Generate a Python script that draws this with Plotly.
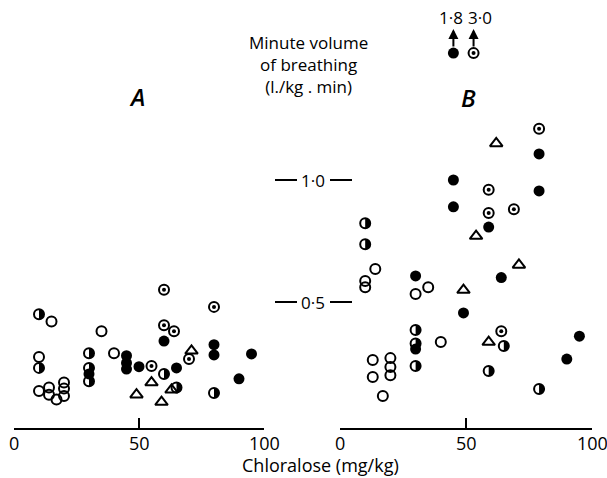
import plotly.graph_objects as go

# ---------------- data (chloralose dose mg/kg, minute volume l./kg.min) ----------------
# Panel A
a_open_x = [15, 35, 40, 10, 10, 14, 14, 17, 20, 20, 20]
a_open_y = [0.42, 0.38, 0.29, 0.275, 0.135, 0.15, 0.12, 0.10, 0.17, 0.145, 0.115]
a_half_x = [10, 10, 30, 30, 30, 60, 65, 80]
a_half_y = [0.45, 0.23, 0.29, 0.23, 0.175, 0.205, 0.15, 0.127]
a_fill_x = [45, 45, 45, 50, 60, 65, 80, 80, 95, 90, 30]
a_fill_y = [0.28, 0.25, 0.225, 0.235, 0.34, 0.23, 0.325, 0.283, 0.287, 0.185, 0.205]
a_dot_x = [60, 80, 60, 64, 55, 70]
a_dot_y = [0.55, 0.48, 0.405, 0.38, 0.238, 0.266]
a_tri_x = [71, 55, 49, 59, 63]
a_tri_y = [0.30, 0.17, 0.12, 0.09, 0.14]

# Panel B
b_open_x = [14, 10, 10, 35, 30, 40, 13, 13, 20, 20, 20, 17]
b_open_y = [0.635, 0.586, 0.56, 0.56, 0.533, 0.336, 0.262, 0.193, 0.27, 0.234, 0.20, 0.115]
b_half_x = [10, 10, 30, 30, 30, 65, 59, 79]
b_half_y = [0.823, 0.737, 0.385, 0.33, 0.238, 0.32, 0.217, 0.143]
b_fill_x = [30, 30, 45, 45, 59, 64, 79, 79, 49, 95, 90]
b_fill_y = [0.607, 0.307, 1.0, 0.89, 0.807, 0.60, 1.107, 0.955, 0.455, 0.36, 0.266]
b_dot_x = [79, 59, 59, 69, 64]
b_dot_y = [1.21, 0.96, 0.865, 0.88, 0.38]
b_tri_x = [62, 54, 71, 49, 59]
b_tri_y = [1.15, 0.77, 0.652, 0.549, 0.336]

# off-scale values in panel B (shown at top with arrows)
off_fill_x = [45]
off_dot_x = [53]
off_labels = ["1·8", "3·0"]
off_label_x = [44, 55.5]
off_display_y = 1.52

x_ticks = [0, 50, 100]
y_label_vals = [1.0, 0.5]
y_label_text = ["1·0", "0·5"]

# ---------------- figure ----------------
W, H = 607, 478
FONT = "Open Sans"
fig = go.Figure()

OPEN = dict(symbol="circle-open", size=10, color="black", line=dict(width=2, color="black"))
FILL = dict(symbol="circle", size=11, color="black", line=dict(width=0))
DOT = dict(symbol="circle", size=4, color="black", line=dict(width=0))
TRI = dict(symbol="triangle-up-open", size=11, color="black", line=dict(width=2, color="black"))

shapes = []
R = 5.0
K = 0.5523 * R
HALF_PATH = (f"M0,{-R} C{K},{-R} {R},{-K} {R},0 C{R},{K} {K},{R} 0,{R} Z")


def add_panel(xa, ya, ox, oy, hx, hy, fx, fy, dx, dy, tx, ty):
    common = dict(xaxis=xa, yaxis=ya, showlegend=False, hoverinfo="skip", mode="markers")
    fig.add_trace(go.Scatter(x=ox, y=oy, marker=OPEN, **common))
    fig.add_trace(go.Scatter(x=tx, y=ty, marker=TRI, **common))
    fig.add_trace(go.Scatter(x=fx, y=fy, marker=FILL, **common))
    fig.add_trace(go.Scatter(x=dx, y=dy, marker=OPEN, **common))
    fig.add_trace(go.Scatter(x=dx, y=dy, marker=DOT, **common))
    # half-filled circles: outline marker + right-half fill shape anchored at the data point
    fig.add_trace(go.Scatter(x=hx, y=hy, marker=OPEN, **common))
    for xv, yv in zip(hx, hy):
        shapes.append(dict(type="path", xref=xa, yref=ya, xsizemode="pixel",
                           ysizemode="pixel", xanchor=xv, yanchor=yv, path=HALF_PATH,
                           fillcolor="black", line=dict(width=0), layer="above"))


add_panel("x", "y", a_open_x, a_open_y, a_half_x, a_half_y, a_fill_x, a_fill_y,
          a_dot_x, a_dot_y, a_tri_x, a_tri_y)
add_panel("x2", "y2", b_open_x, b_open_y, b_half_x, b_half_y, b_fill_x, b_fill_y,
          b_dot_x, b_dot_y, b_tri_x, b_tri_y)

# off-scale markers
offc = dict(xaxis="x2", yaxis="y2", showlegend=False, hoverinfo="skip", cliponaxis=False,
            mode="markers")
fig.add_trace(go.Scatter(x=off_fill_x, y=[off_display_y] * len(off_fill_x), marker=FILL, **offc))
fig.add_trace(go.Scatter(x=off_dot_x, y=[off_display_y] * len(off_dot_x), marker=OPEN, **offc))
fig.add_trace(go.Scatter(x=off_dot_x, y=[off_display_y] * len(off_dot_x), marker=DOT, **offc))

# geometry: plot area from top (0px) to axis line (428px)
PLOT_BOTTOM = 428
y_per_px = 1 / 244.0
y0_px = 424
yrange = [(y0_px - PLOT_BOTTOM) * y_per_px, y0_px * y_per_px]

xaxis_common = dict(range=[0, 100], showgrid=False, zeroline=False, showline=True,
                    linecolor="black", linewidth=2, ticks="inside", ticklen=10,
                    tickwidth=2, tickcolor="black", tickvals=x_ticks,
                    showticklabels=False, fixedrange=True)
yaxis_common = dict(range=yrange, visible=False, showgrid=False, zeroline=False,
                    fixedrange=True)

fig.update_layout(
    width=W, height=H,
    margin=dict(l=0, r=0, t=0, b=H - PLOT_BOTTOM),
    paper_bgcolor="white", plot_bgcolor="white",
    xaxis=dict(domain=[14 / W, 264 / W], anchor="y", **xaxis_common),
    xaxis2=dict(domain=[340 / W, 592 / W], anchor="y2", **xaxis_common),
    yaxis=dict(domain=[0, 1], anchor="x", **yaxis_common),
    yaxis2=dict(domain=[0, 1], anchor="x2", **yaxis_common),
)


def py(p):  # pixel row -> paper y
    return (PLOT_BOTTOM - p) / PLOT_BOTTOM


ann = []
# tick labels
for xa in ("x", "x2"):
    for t in x_ticks:
        ann.append(dict(text=str(t), xref=xa, yref="paper", x=t, y=py(443),
                        xanchor="center", yanchor="middle", showarrow=False,
                        font=dict(family=FONT, size=18, color="black")))
# title block
ann.append(dict(text="Minute volume<br>of breathing<br>(l./kg . min)", xref="paper",
                yref="paper", x=308 / W, y=py(64), xanchor="center", yanchor="middle",
                align="center", showarrow=False,
                font=dict(family=FONT, size=17, color="black")))
# panel letters
ann.append(dict(text="<i>A</i>", xref="paper", yref="paper", x=137 / W, y=py(96),
                xanchor="center", yanchor="middle", showarrow=False,
                font=dict(family=FONT, size=24, color="black", weight=600)))
ann.append(dict(text="<i>B</i>", xref="paper", yref="paper", x=468 / W, y=py(98),
                xanchor="center", yanchor="middle", showarrow=False,
                font=dict(family=FONT, size=24, color="black", weight=600)))
# x-axis title
ann.append(dict(text="Chloralose (mg/kg)", xref="paper", yref="paper", x=321 / W, y=py(465),
                xanchor="center", yanchor="middle", showarrow=False,
                font=dict(family=FONT, size=18, color="black")))
# central y labels with dashes
for val, lab in zip(y_label_vals, y_label_text):
    ann.append(dict(text=lab, xref="paper", yref="y", x=313 / W, y=val,
                    xanchor="center", yanchor="middle", showarrow=False,
                    font=dict(family=FONT, size=17, color="black")))
    shapes.append(dict(type="line", xref="paper", yref="y", x0=275 / W, x1=297 / W,
                       y0=val, y1=val, line=dict(color="black", width=2)))
    shapes.append(dict(type="line", xref="paper", yref="y", x0=330 / W, x1=352 / W,
                       y0=val, y1=val, line=dict(color="black", width=2)))
# off-scale arrows (pointing up) and values
for xv in off_fill_x + off_dot_x:
    ann.append(dict(text="", xref="x2", yref="paper", x=xv, y=py(29), ax=0, ay=19,
                    showarrow=True, arrowhead=2, arrowsize=1, arrowwidth=2,
                    arrowcolor="black", standoff=0, startstandoff=0))
for xv, lab in zip(off_label_x, off_labels):
    ann.append(dict(text=lab, xref="x2", yref="paper", x=xv, y=py(17),
                    xanchor="center", yanchor="middle", showarrow=False,
                    font=dict(family=FONT, size=17, color="black")))

fig.update_layout(annotations=ann, shapes=shapes)
fig.write_html("out.html")
